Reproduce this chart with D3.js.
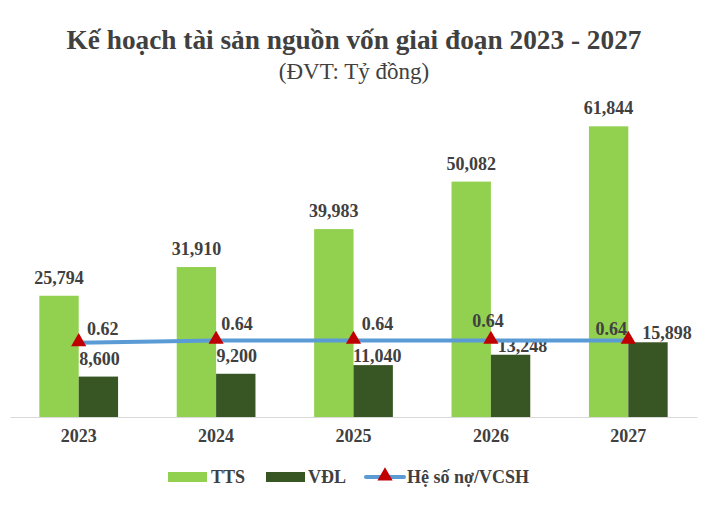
<!DOCTYPE html>
<html>
<head>
<meta charset="utf-8">
<script src="https://cdn.jsdelivr.net/npm/d3@7"></script>
<style>
  body { margin: 0; background: #fff; }
  text { font-family: "Liberation Serif", "Times New Roman", serif; fill: #404040; }
</style>
</head>
<body>
<svg id="chart" width="707" height="505"></svg>
<script>
"use strict";
// data
var years = ["2023", "2024", "2025", "2026", "2027"];
var tts = [25794, 31910, 39983, 50082, 61844];
var vdl = [8600, 9200, 11040, 13248, 15898];
var ratio = [0.62, 0.64, 0.64, 0.64, 0.64];

// hand-placed label nudges (as in the original Excel chart)
var vdlNudge = [[1, 0], [1, 0], [4, 9], [12, 9], [19, 9]];
var ratioNudge = [[24, -14], [21, -16], [24, -16], [-3, -19], [-17, -11]];

var colTTS = "#92D050", colVDL = "#375623", colLine = "#5B9BD5", colMark = "#C00000";

var svg = d3.select("#chart");
var baseY = 417, topY = 88;

var x = d3.scaleBand().domain(years).range([10, 697]).paddingInner(0.427).paddingOuter(0.2135);
var xs = d3.scaleBand().domain(["tts", "vdl"]).range([0, x.bandwidth()]);
var y = d3.scaleLinear().domain([0, 70000]).range([baseY, topY]);
var y2 = d3.scaleLinear().domain([0, 2.75]).range([baseY, topY]);

// title
svg.append("text").attr("x", 354).attr("y", 49).attr("text-anchor", "middle")
  .style("font-size", "27.3px").style("font-weight", "bold")
  .text("Kế hoạch tài sản nguồn vốn giai đoạn 2023 - 2027");
svg.append("text").attr("x", 354).attr("y", 79).attr("text-anchor", "middle")
  .style("font-size", "23px")
  .text("(ĐVT: Tỷ đồng)");

// axis line + year labels
var xAxis = svg.append("g").attr("transform", "translate(0," + baseY + ")")
  .call(d3.axisBottom(x).tickSize(0).tickPadding(12).tickSizeOuter(0));
xAxis.select(".domain").attr("stroke", "#D9D9D9").attr("stroke-width", 1.2);
xAxis.selectAll("text").style("font-family", "Liberation Serif, serif")
  .style("font-size", "18px").style("font-weight", "bold").attr("fill", "#404040");

var g = svg.append("g");

// bars
g.selectAll(".tts").data(tts).enter().append("rect")
  .attr("x", function(d, i) { return x(years[i]) + xs("tts"); })
  .attr("y", function(d) { return y(d); })
  .attr("width", xs.bandwidth())
  .attr("height", function(d) { return baseY - y(d); })
  .attr("fill", colTTS);
g.selectAll(".vdl").data(vdl).enter().append("rect")
  .attr("x", function(d, i) { return x(years[i]) + xs("vdl"); })
  .attr("y", function(d) { return y(d); })
  .attr("width", xs.bandwidth())
  .attr("height", function(d) { return baseY - y(d); })
  .attr("fill", colVDL);

var fmt = d3.format(",");

// bar labels
g.selectAll(".ttsLbl").data(tts).enter().append("text")
  .attr("x", function(d, i) { return x(years[i]) + xs("tts") + xs.bandwidth() / 2; })
  .attr("y", function(d) { return y(d) - 12; })
  .attr("text-anchor", "middle")
  .style("font-size", "18px").style("font-weight", "bold")
  .text(fmt);
g.selectAll(".vdlLbl").data(vdl).enter().append("text")
  .attr("x", function(d, i) { return x(years[i]) + xs("vdl") + xs.bandwidth() / 2 + vdlNudge[i][0]; })
  .attr("y", function(d, i) { return y(d) - 12 + vdlNudge[i][1]; })
  .attr("text-anchor", "middle")
  .style("font-size", "18px").style("font-weight", "bold")
  .text(fmt);

// ratio line
var cx = function(d, i) { return x(years[i]) + x.bandwidth() / 2; };
var line = d3.line().x(cx).y(function(d) { return y2(d); });
g.append("path").datum(ratio)
  .attr("d", line)
  .attr("fill", "none")
  .attr("stroke", colLine)
  .attr("stroke-width", 4)
  .attr("stroke-linecap", "round");

var tri = d3.symbol().type(d3.symbolTriangle).size(100);
g.selectAll(".mark").data(ratio).enter().append("path")
  .attr("d", tri)
  .attr("transform", function(d, i) { return "translate(" + cx(d, i) + "," + (y2(d) - 1) + ")"; })
  .attr("fill", colMark);

g.selectAll(".ratioLbl").data(ratio).enter().append("text")
  .attr("x", function(d, i) { return cx(d, i) + ratioNudge[i][0]; })
  .attr("y", function(d, i) { return y2(d) + ratioNudge[i][1] + 6; })
  .attr("text-anchor", "middle")
  .style("font-size", "18px").style("font-weight", "bold")
  .text(d3.format(".2f"));

// legend
var leg = svg.append("g").attr("transform", "translate(0,477)");
leg.append("rect").attr("x", 168).attr("y", -5).attr("width", 39).attr("height", 10).attr("fill", colTTS);
leg.append("text").attr("x", 211).attr("y", 6).style("font-size", "18px").style("font-weight", "bold").text("TTS");
leg.append("rect").attr("x", 266).attr("y", -5).attr("width", 39).attr("height", 10).attr("fill", colVDL);
leg.append("text").attr("x", 308).attr("y", 6).style("font-size", "18px").style("font-weight", "bold").text("VĐL");
leg.append("line").attr("x1", 366).attr("x2", 404).attr("y1", 0).attr("y2", 0)
  .attr("stroke", colLine).attr("stroke-width", 4).attr("stroke-linecap", "round");
leg.append("path").attr("d", tri).attr("transform", "translate(385,-1)").attr("fill", colMark);
leg.append("text").attr("x", 407).attr("y", 6).style("font-size", "18px").style("font-weight", "bold").text("Hệ số nợ/VCSH");
</script>
</body>
</html>
